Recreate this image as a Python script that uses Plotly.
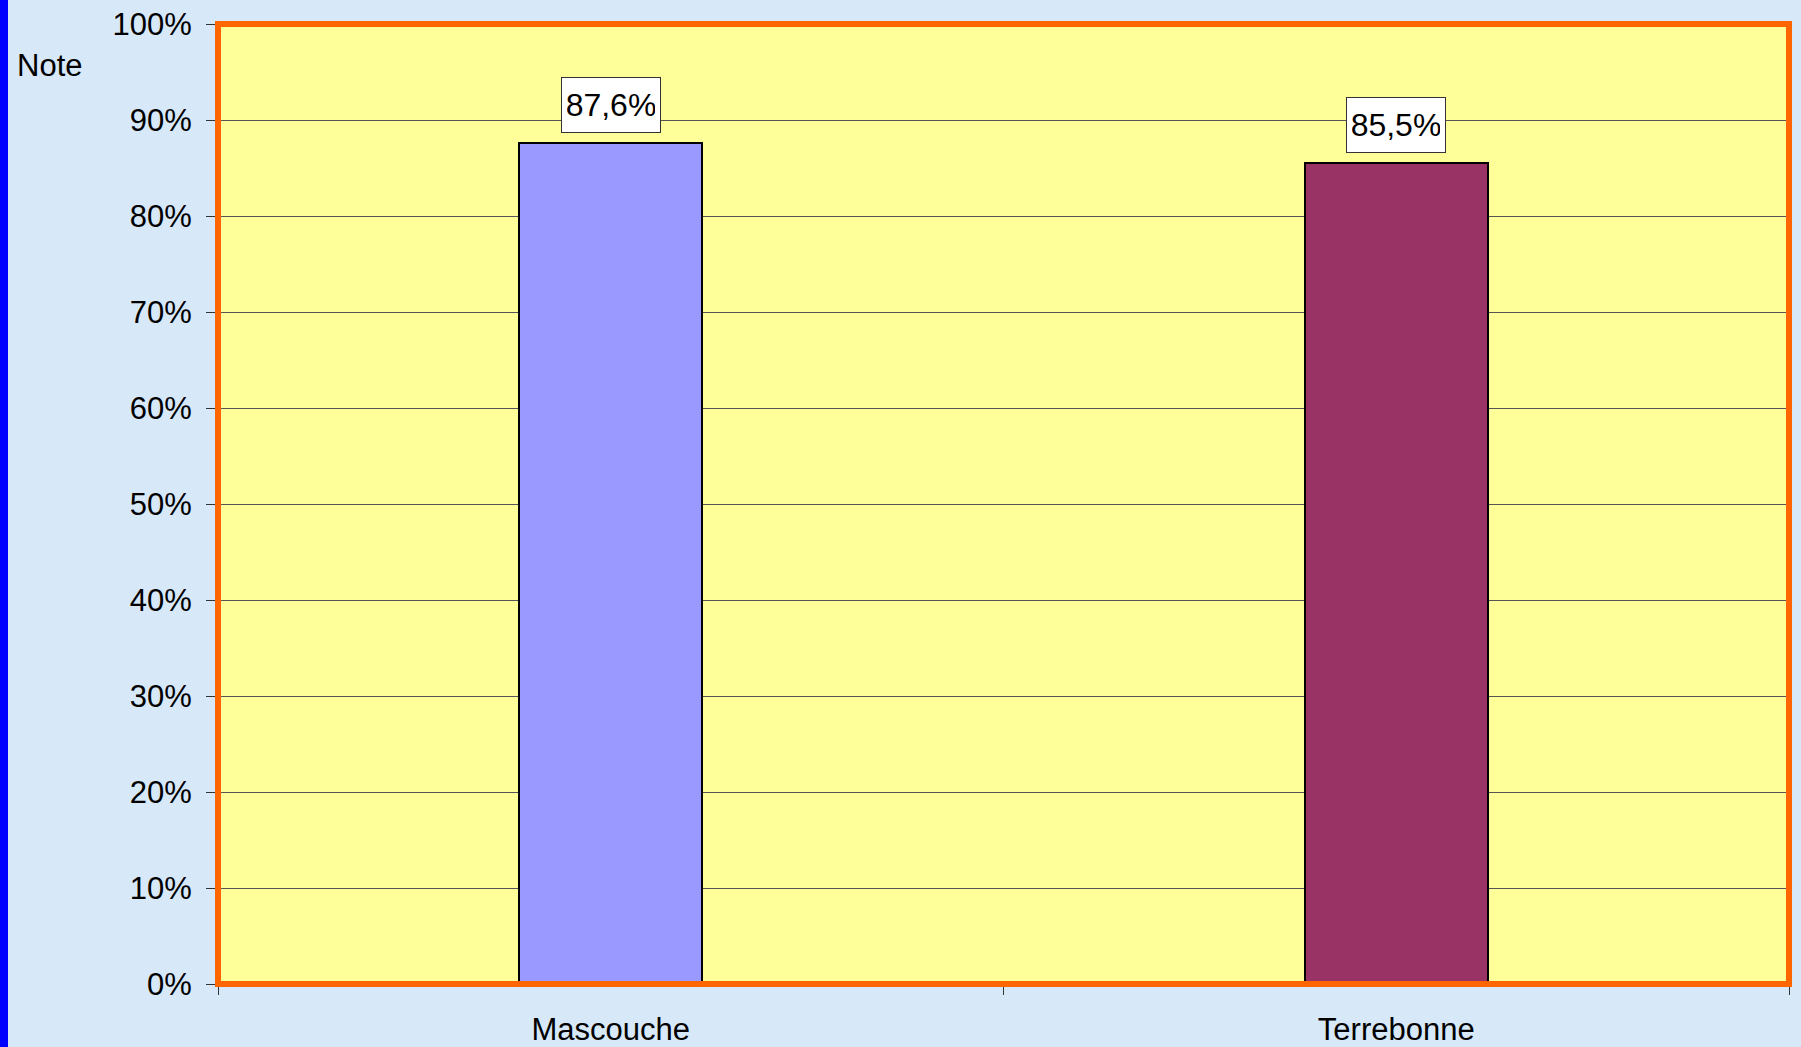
import plotly.graph_objects as go

# données
villes = ["Mascouche", "Terrebonne"]
notes = [0.876, 0.855]
etiquettes = ["87,6%", "85,5%"]
couleurs = ["#9999FF", "#993366"]

y_ticks = [i / 10 for i in range(11)]
y_labels = [f"{i * 10}%" for i in range(11)]

FONT = "Liberation Sans, Arial, sans-serif"

W, H = 1801, 1047
L, R, T, B = 218, 12, 24, 63
pw, ph = W - L - R, H - T - B

fig = go.Figure()
fig.add_trace(go.Bar(
    x=villes, y=notes,
    width=0.233,
    marker={"color": couleurs, "line": {"color": "#000000", "width": 2}},
    hoverinfo="x+y",
))

# étiquettes de valeurs
for v, n, t in zip(villes, notes, etiquettes):
    fig.add_annotation(
        x=v, y=n, text=t, showarrow=False,
        yanchor="bottom", yshift=10,
        width=88, height=44,
        font={"family": FONT, "size": 32, "color": "#000"},
        bgcolor="#FFFFFF", bordercolor="#333333", borderwidth=1, borderpad=5,
    )

fig.add_annotation(
    xref="paper", yref="paper",
    x=(15 - L) / pw, y=(H - B - 65) / ph,
    xanchor="left", yanchor="middle",
    text="Note", showarrow=False,
    font={"family": FONT, "size": 31, "color": "#000"},
)

# bande bleue à gauche
fig.add_shape(
    type="rect", xref="paper", yref="paper",
    x0=-L / pw, x1=(8 - L) / pw, y0=-B / ph, y1=1 + T / ph,
    fillcolor="#0000FF", line={"width": 0}, layer="below",
)
# cadre orange
fig.add_shape(
    type="rect", xref="paper", yref="paper",
    x0=0, x1=1, y0=0, y1=1,
    line={"color": "#FF6600", "width": 6}, layer="above",
)

fig.update_layout(
    width=W, height=H,
    margin={"l": L, "r": R, "t": T, "b": B, "autoexpand": False},
    paper_bgcolor="#D7E8F8",
    plot_bgcolor="#FFFF99",
    showlegend=False,
    bargap=0,
    font={"family": FONT, "size": 31, "color": "#000"},
    xaxis={
        "showline": True, "linecolor": "#333333", "linewidth": 1,
        "ticks": "outside", "ticklen": 10, "tickcolor": "#333333",
        "tickson": "boundaries", "showgrid": False,
        "ticklabelstandoff": 18, "automargin": False,
    },
    yaxis={
        "range": [0, 1], "tickvals": y_ticks, "ticktext": y_labels,
        "showline": True, "linecolor": "#333333", "linewidth": 1,
        "ticks": "outside", "ticklen": 11, "tickcolor": "#333333",
        "showgrid": True, "gridcolor": "#555555", "gridwidth": 1,
        "zeroline": False, "ticklabelstandoff": 8, "automargin": False,
    },
)

fig.write_html(
    "out.html",
    config={"displayModeBar": False},
    post_script="document.body.style.margin='0';document.body.style.overflow='hidden';",
)
